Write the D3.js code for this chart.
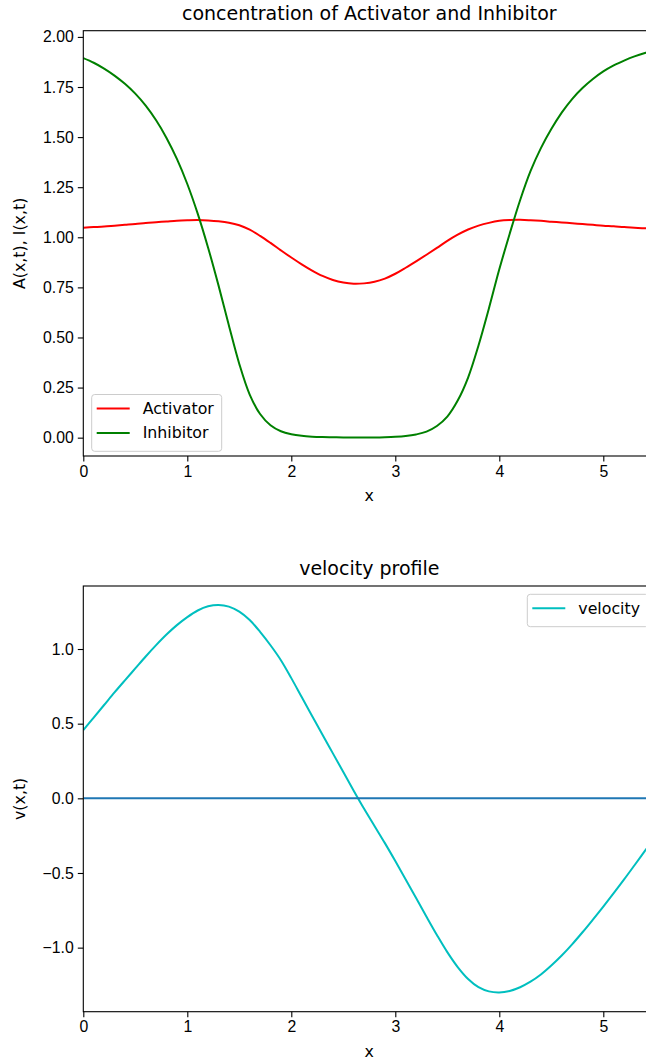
<!DOCTYPE html>
<html lang="en">
  <head>
    <meta charset="UTF-8" />
    <title>Activator / Inhibitor and velocity profile</title>
    <script src="https://d3js.org/d3.v7.min.js"></script>
    <style>
      body {
        margin: 0;
        background: #fff;
        overflow: hidden;
      }
      svg {
        font-family: "DejaVu Sans", sans-serif;
      }
      .axis text {
        font-size: 15.8px;
        fill: #000;
      }
      .axis path,
      .axis line {
        stroke: #000;
        stroke-width: 1.1;
      }
      .title {
        font-size: 19px;
        text-anchor: middle;
      }
      .label {
        font-size: 15.8px;
        text-anchor: middle;
      }
      .legend text {
        font-size: 15.8px;
      }
    </style>
  </head>
  <body>
    <svg width="646" height="1061"></svg>
    <script>
      // values
      var xValues = [
        0.0, 0.1, 0.2, 0.3, 0.4, 0.5, 0.6, 0.7, 0.8, 0.9,
        1.0, 1.1, 1.2, 1.3, 1.4, 1.5, 1.6, 1.7, 1.8, 1.9,
        2.0, 2.1, 2.2, 2.3, 2.4, 2.5, 2.6, 2.7, 2.8, 2.9,
        3.0, 3.1, 3.2, 3.3, 3.4, 3.5, 3.6, 3.7, 3.8, 3.9,
        4.0, 4.1, 4.2, 4.3, 4.4, 4.5, 4.6, 4.7, 4.8, 4.9,
        5.0, 5.1, 5.2, 5.3, 5.4, 5.5
      ];
      var activator = [
        1.048, 1.051, 1.054, 1.058, 1.062, 1.066, 1.071, 1.075, 1.079, 1.083,
        1.085, 1.086, 1.084, 1.08, 1.073, 1.06, 1.038, 1.007, 0.972, 0.935,
        0.899, 0.865, 0.834, 0.807, 0.787, 0.774, 0.768, 0.77, 0.778, 0.794,
        0.818, 0.848, 0.88, 0.913, 0.947, 0.982, 1.013, 1.039, 1.058, 1.072,
        1.082, 1.086, 1.087, 1.085, 1.082, 1.078, 1.074, 1.07, 1.066, 1.062,
        1.058, 1.055, 1.051, 1.048, 1.045, 1.043
      ];
      var inhibitor = [
        1.894, 1.871, 1.842, 1.807, 1.766, 1.717, 1.657, 1.584, 1.496, 1.391,
        1.266, 1.118, 0.948, 0.76, 0.56, 0.368, 0.215, 0.118, 0.062, 0.032,
        0.017, 0.009, 0.005, 0.003, 0.002, 0.001, 0.001, 0.001, 0.001, 0.002,
        0.004, 0.008, 0.016, 0.03, 0.058, 0.105, 0.185, 0.3, 0.46, 0.645,
        0.84, 1.018, 1.185, 1.33, 1.445, 1.54, 1.622, 1.69, 1.745, 1.79,
        1.828, 1.858, 1.882, 1.903, 1.92, 1.934
      ];
      var velocity = [
        0.457, 0.541, 0.625, 0.709, 0.79, 0.87, 0.95, 1.026, 1.097, 1.16,
        1.214, 1.258, 1.286, 1.295, 1.284, 1.25, 1.194, 1.115, 1.025, 0.925,
        0.805, 0.678, 0.552, 0.426, 0.301, 0.176, 0.051, -0.07, -0.185, -0.3,
        -0.42, -0.543, -0.668, -0.793, -0.915, -1.03, -1.13, -1.21, -1.265, -1.293,
        -1.3, -1.29, -1.265, -1.228, -1.18, -1.12, -1.053, -0.978, -0.897, -0.812,
        -0.725, -0.635, -0.543, -0.448, -0.352, -0.256
      ];
      var xTicks = [0, 1, 2, 3, 4, 5];
      var topYTicks = [0, 0.25, 0.5, 0.75, 1.0, 1.25, 1.5, 1.75, 2.0];
      var bottomYTicks = [-1.0, -0.5, 0.0, 0.5, 1.0];

      var svg = d3.select("svg");
      var left = 83.3,
        right = 655.3;

      var x = d3.scaleLinear().domain([0, 5.5]).range([left, right]);

      function makePanel(opts) {
        var y = d3.scaleLinear().domain(opts.yDomain).range([opts.bottom, opts.top]);
        var g = svg.append("g");

        var clipId = "clip-" + opts.id;
        g.append("clipPath")
          .attr("id", clipId)
          .append("rect")
          .attr("x", left)
          .attr("y", opts.top)
          .attr("width", right - left)
          .attr("height", opts.bottom - opts.top);

        var plot = g.append("g").attr("clip-path", "url(#" + clipId + ")");

        var line = d3
          .line()
          .x(function (d, i) { return x(xValues[i]); })
          .y(function (d) { return y(d); })
          .curve(d3.curveCatmullRom);

        opts.series.forEach(function (s) {
          plot.append("path")
            .datum(s.values)
            .attr("fill", "none")
            .attr("stroke", s.color)
            .attr("stroke-width", 2)
            .attr("d", line);
        });

        if (opts.zeroLine) {
          plot.append("line")
            .attr("x1", left)
            .attr("x2", right)
            .attr("y1", y(0))
            .attr("y2", y(0))
            .attr("stroke", "#1f77b4")
            .attr("stroke-width", 2);
        }

        // frame
        g.append("rect")
          .attr("x", left)
          .attr("y", opts.top)
          .attr("width", right - left)
          .attr("height", opts.bottom - opts.top)
          .attr("fill", "none")
          .attr("stroke", "#000")
          .attr("stroke-width", 1.1);

        g.append("g")
          .attr("class", "axis")
          .attr("transform", "translate(0," + opts.bottom + ")")
          .call(d3.axisBottom(x).tickValues(xTicks).tickFormat(d3.format("d")).tickSize(5.5).tickPadding(4))
          .call(function (a) { a.select(".domain").remove(); });

        g.append("g")
          .attr("class", "axis")
          .attr("transform", "translate(" + left + ",0)")
          .call(d3.axisLeft(y).tickValues(opts.yTicks).tickFormat(d3.format(opts.yFormat)).tickSize(5.5).tickPadding(4))
          .call(function (a) { a.select(".domain").remove(); });

        g.append("text")
          .attr("class", "title")
          .attr("x", (left + right) / 2)
          .attr("y", opts.top - 11)
          .text(opts.title);

        g.append("text")
          .attr("class", "label")
          .attr("x", (left + right) / 2)
          .attr("y", opts.bottom + 45)
          .text("x");

        g.append("text")
          .attr("class", "label")
          .attr("transform", "translate(25," + (opts.top + opts.bottom) / 2 + ") rotate(-90)")
          .text(opts.yLabel);

        // legend
        var lg = g.append("g").attr("class", "legend");
        var rowH = 24.4;
        lg.append("rect")
          .attr("x", opts.legend.x)
          .attr("y", opts.legend.y)
          .attr("width", opts.legend.w)
          .attr("height", 10 + rowH * opts.series.length - 2)
          .attr("rx", 3)
          .attr("fill", "#fff")
          .attr("fill-opacity", 0.8)
          .attr("stroke", "#cccccc")
          .attr("stroke-width", 1);
        opts.series.forEach(function (s, i) {
          var cy = opts.legend.y + 14 + i * rowH;
          lg.append("line")
            .attr("x1", opts.legend.x + 5)
            .attr("x2", opts.legend.x + 38)
            .attr("y1", cy)
            .attr("y2", cy)
            .attr("stroke", s.color)
            .attr("stroke-width", 2);
          lg.append("text")
            .attr("x", opts.legend.x + 51)
            .attr("y", cy)
            .attr("dy", "0.35em")
            .text(s.name);
        });
      }

      makePanel({
        id: "top",
        top: 30.7,
        bottom: 456,
        yDomain: [-0.0915, 2.031],
        yTicks: topYTicks,
        yFormat: ".2f",
        title: "concentration of Activator and Inhibitor",
        yLabel: "A(x,t), I(x,t)",
        series: [
          { name: "Activator", color: "#ff0000", values: activator },
          { name: "Inhibitor", color: "#008000", values: inhibitor }
        ],
        legend: { x: 91.7, y: 394.5, w: 130 }
      });

      makePanel({
        id: "bottom",
        top: 586,
        bottom: 1011.7,
        yDomain: [-1.429, 1.422],
        yTicks: bottomYTicks,
        yFormat: ".1f",
        title: "velocity profile",
        yLabel: "v(x,t)",
        zeroLine: true,
        series: [{ name: "velocity", color: "#00bfbf", values: velocity }],
        legend: { x: 527.3, y: 594.3, w: 121 }
      });
    </script>
  </body>
</html>
